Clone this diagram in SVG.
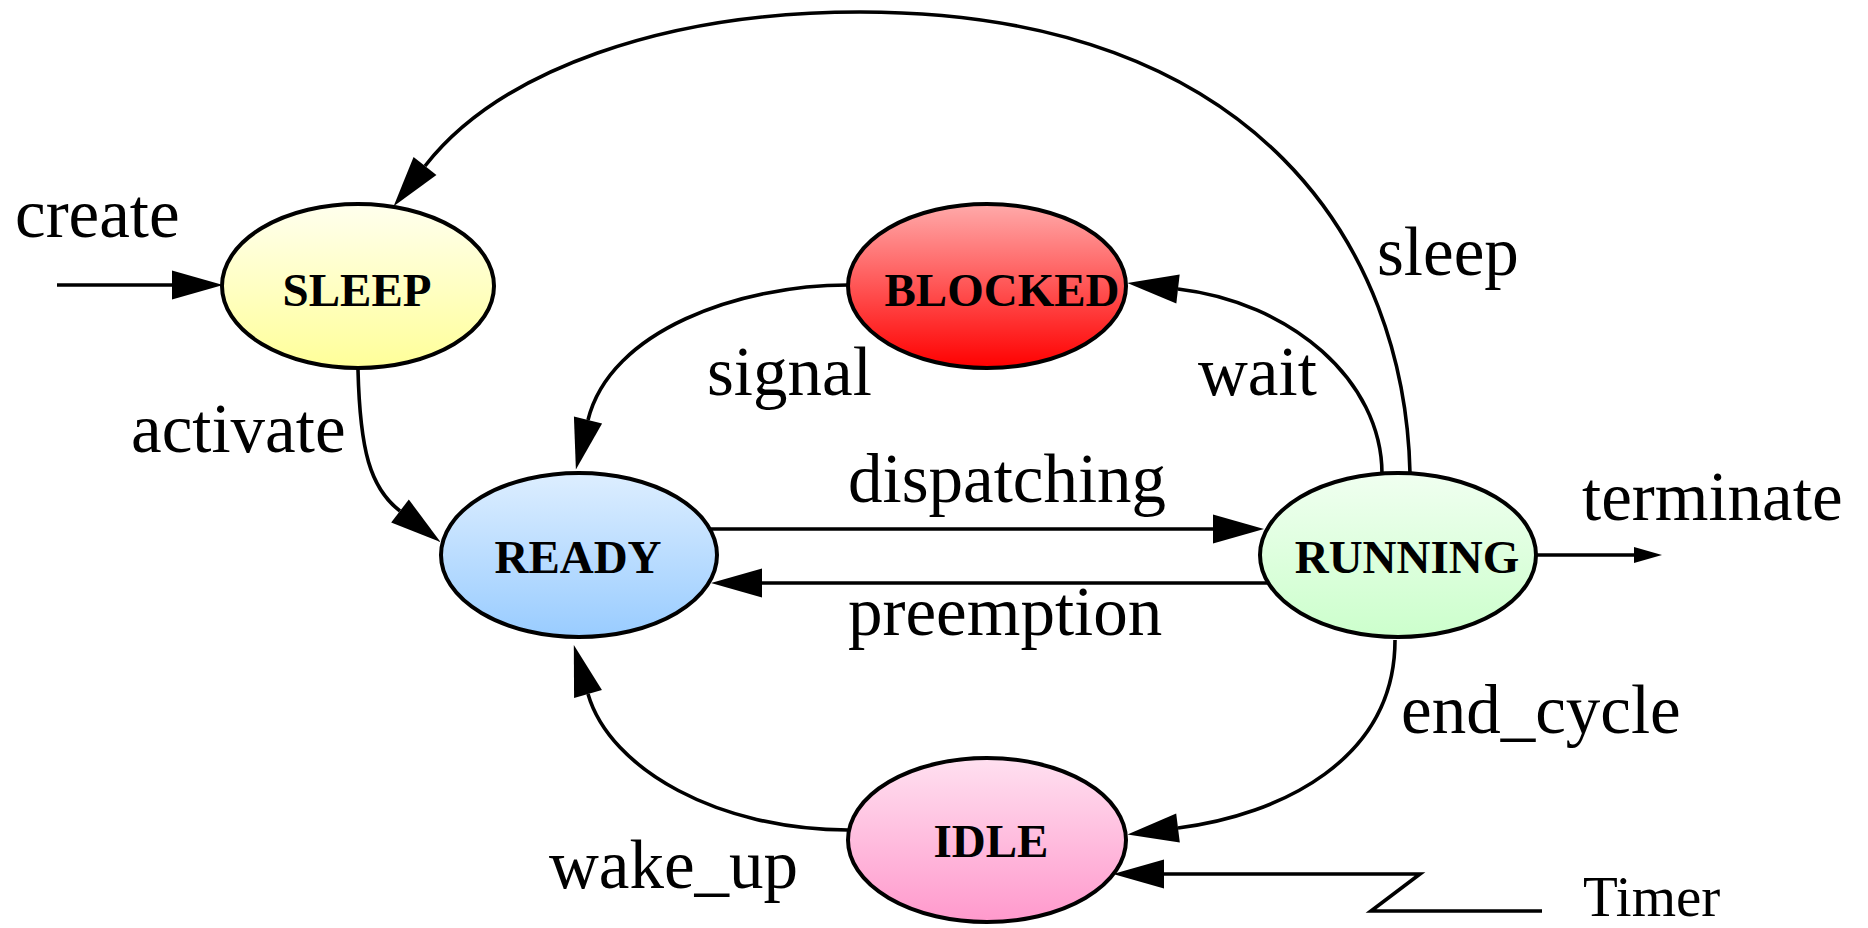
<svg xmlns="http://www.w3.org/2000/svg" width="1868" height="928" viewBox="0 0 1868 928">
  <style>
    .node ellipse { stroke: #000; stroke-width: 4; }
    .node text { font-family: "Liberation Serif", "Times New Roman", serif; font-weight: bold; font-size: 47px; text-anchor: middle; fill: #000; }
    .edge { fill: none; stroke: #000; stroke-width: 3.6; }
    .arrow { marker-end: url(#head); }
    .label { font-family: "Liberation Serif", "Times New Roman", serif; font-size: 69px; fill: #000; }
  </style>
  <defs>
    <linearGradient id="gSleep" x1="0" y1="0" x2="0" y2="1">
      <stop offset="0" stop-color="#ffffee"/>
      <stop offset="1" stop-color="#ffff99"/>
    </linearGradient>
    <linearGradient id="gBlocked" x1="0" y1="0" x2="0" y2="1">
      <stop offset="0" stop-color="#ffaaaa"/>
      <stop offset="1" stop-color="#ff0000"/>
    </linearGradient>
    <linearGradient id="gReady" x1="0" y1="0" x2="0" y2="1">
      <stop offset="0" stop-color="#ddeeff"/>
      <stop offset="1" stop-color="#99ccff"/>
    </linearGradient>
    <linearGradient id="gRunning" x1="0" y1="0" x2="0" y2="1">
      <stop offset="0" stop-color="#f0fff0"/>
      <stop offset="1" stop-color="#ccffcc"/>
    </linearGradient>
    <linearGradient id="gIdle" x1="0" y1="0" x2="0" y2="1">
      <stop offset="0" stop-color="#ffe0f0"/>
      <stop offset="1" stop-color="#ff99cc"/>
    </linearGradient>
    <!-- large filled arrowhead, drawn forward from the path end -->
    <marker id="head" markerUnits="userSpaceOnUse" markerWidth="52" markerHeight="30" viewBox="0 0 52 30" refX="0" refY="15" orient="auto" overflow="visible">
      <path d="M0,0.5 L51,15 L0,29.5 z" fill="#000"/>
    </marker>
    <!-- small arrowhead for the terminate exit -->
    <marker id="headSmall" markerUnits="userSpaceOnUse" markerWidth="30" markerHeight="18" viewBox="0 0 30 18" refX="0" refY="9" orient="auto" overflow="visible">
      <path d="M0,1 L28,9 L0,17 z" fill="#000"/>
    </marker>
  </defs>

  <!-- transitions -->
  <g id="connectors">
    <!-- create -->
    <path class="edge arrow" d="M57,285 L172,285"/>
    <!-- activate: SLEEP -> READY -->
    <path class="edge arrow" d="M358,370 C360,450 370,488 400,511"/>
    <!-- signal: BLOCKED -> READY -->
    <path class="edge arrow" d="M848,285 C740,285 610,330 588,420"/>
    <!-- wait: RUNNING -> BLOCKED -->
    <path class="edge arrow" d="M1382,474 C1382,380 1290,302 1178,289"/>
    <!-- sleep: RUNNING -> SLEEP -->
    <path class="edge arrow" d="M1410,473 C1405,250 1260,12 860,12 C665,12 500,70 425,166"/>
    <!-- dispatching: READY -> RUNNING -->
    <path class="edge arrow" d="M711,529 L1213,529"/>
    <!-- preemption: RUNNING -> READY -->
    <path class="edge arrow" d="M1268,583 L762,583"/>
    <!-- end_cycle: RUNNING -> IDLE -->
    <path class="edge arrow" d="M1395,640 C1395,760 1280,815 1178,828"/>
    <!-- wake_up: IDLE -> READY -->
    <path class="edge arrow" d="M848,830 C720,830 610,770 588,694"/>
    <!-- terminate -->
    <path class="edge" d="M1537,555 L1634,555" marker-end="url(#headSmall)"/>
    <!-- Timer -->
    <path class="edge arrow" d="M1542,911 L1371,911 L1420,874 L1164,874"/>
  </g>

  <g id="labels">
    <text class="label" x="15" y="237">create</text>
    <text class="label" x="131" y="452">activate</text>
    <text class="label" x="707" y="395">signal</text>
    <text class="label" x="1198" y="395">wait</text>
    <text class="label" x="1377" y="275">sleep</text>
    <text class="label" x="848" y="502">dispatching</text>
    <text class="label" x="848" y="635">preemption</text>
    <text class="label" x="1582" y="520">terminate</text>
    <text class="label" x="1401" y="733">end_cycle</text>
    <text class="label" x="549" y="888">wake_up</text>
    <text class="label" x="1583" y="916" style="font-size:57px">Timer</text>
  </g>

  <g id="SLEEP" class="node">
    <ellipse cx="358" cy="286" rx="136" ry="82" fill="url(#gSleep)"/>
    <text x="357" y="306">SLEEP</text>
  </g>
  <g id="BLOCKED" class="node">
    <ellipse cx="987" cy="286" rx="139" ry="82" fill="url(#gBlocked)"/>
    <text x="1002" y="306">BLOCKED</text>
  </g>
  <g id="READY" class="node">
    <ellipse cx="579" cy="555" rx="138" ry="82" fill="url(#gReady)"/>
    <text x="578" y="573">READY</text>
  </g>
  <g id="RUNNING" class="node">
    <ellipse cx="1398" cy="555" rx="138" ry="82" fill="url(#gRunning)"/>
    <text x="1407" y="573">RUNNING</text>
  </g>
  <g id="IDLE" class="node">
    <ellipse cx="987" cy="840" rx="139" ry="82" fill="url(#gIdle)"/>
    <text x="991" y="857">IDLE</text>
  </g>
</svg>
